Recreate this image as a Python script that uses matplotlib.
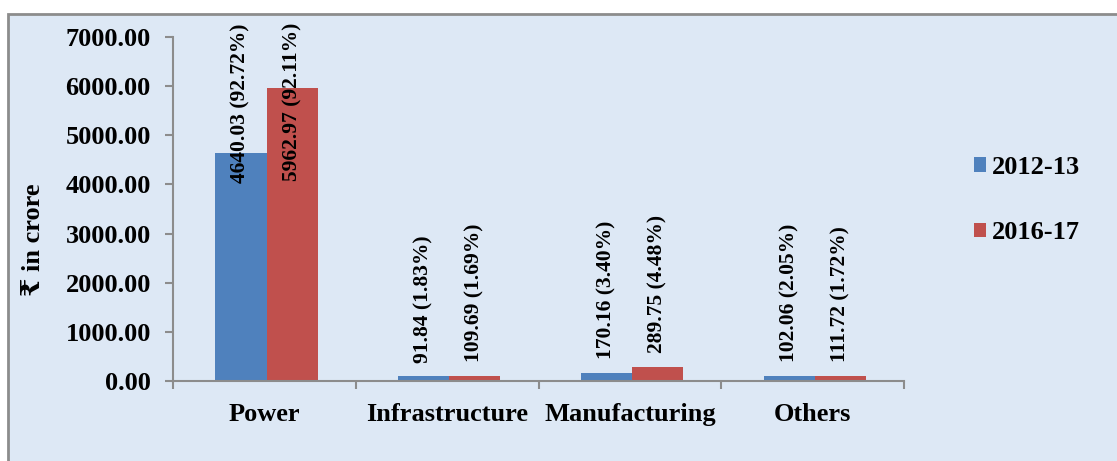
import matplotlib.pyplot as plt
from matplotlib.patches import Rectangle
import numpy as np

# --- DATA ---
categories = ['Power', 'Infrastructure', 'Manufacturing', 'Others']
series_names = ['2012-13', '2016-17']
values_1213 = [4640.03, 91.84, 170.16, 102.06]
values_1617 = [5962.97, 109.69, 289.75, 111.72]
share_1213 = [92.72, 1.83, 3.40, 2.05]
share_1617 = [92.11, 1.69, 4.48, 1.72]
y_ticks = [0, 1000, 2000, 3000, 4000, 5000, 6000, 7000]

blue = '#4F81BD'
red = '#C0504D'
bg = '#DDE8F5'
grey = '#8C8C8C'
serif = ['Liberation Serif', 'DejaVu Serif', 'DejaVu Sans']

plt.rcParams['font.family'] = serif
plt.rcParams['font.weight'] = 'bold'
fs = 19

fig = plt.figure(figsize=(11.17, 4.61), dpi=100)
fig.patch.set_facecolor('white')

# chart area background with grey border
W, H = 1117, 461
fig.patches.append(Rectangle((8 / W, -0.05), 1.2, 1 - 14 / H + 0.05,
                             transform=fig.transFigure, facecolor=bg,
                             edgecolor=grey, linewidth=2, zorder=-5))

ax = fig.add_axes([173 / W, 1 - 381 / H, (904 - 173) / W, (381 - 37) / H])
ax.set_facecolor('none')

x = np.arange(len(categories))
w = 0.28
b1 = ax.bar(x - w / 2 + 0.012, values_1213, w, color=blue, label=series_names[0], zorder=2)
b2 = ax.bar(x + w / 2 + 0.012, values_1617, w, color=red, label=series_names[1], zorder=2)

ax.set_xlim(-0.5, len(categories) - 0.5)
ax.set_ylim(0, 7000)
ax.set_yticks(y_ticks)
ax.set_yticklabels([f'{v:.2f}' for v in y_ticks], fontsize=fs, fontweight='bold')
ax.set_xticks(x)
ax.set_xticklabels(categories, fontsize=fs, fontweight='bold')
ax.set_xticks(np.arange(len(categories) + 1) - 0.5, minor=True)
ax.tick_params(axis='x', which='major', length=0, pad=16)
ax.tick_params(axis='x', which='minor', length=6, color=grey, width=1.5)
ax.tick_params(axis='y', length=6, color=grey, width=1.5, pad=10)

for s in ['top', 'right']:
    ax.spines[s].set_visible(False)
for s in ['left', 'bottom']:
    ax.spines[s].set_color(grey)
    ax.spines[s].set_linewidth(1.5)

ax.set_ylabel('₹ in crore', fontsize=fs, fontweight='bold')
ax.yaxis.set_label_coords(-0.175, 0.41)

# value labels
for i in range(len(categories)):
    for xv, val, sh, in [(x[i] - w / 2 + 0.012, values_1213[i], share_1213[i]),
                         (x[i] + w / 2 + 0.012, values_1617[i], share_1617[i])]:
        txt = f'{val:.2f} ({sh:.2f}%)'
        if val > 3000:
            ax.annotate(txt, (xv, 7000), xytext=(0, 10), textcoords='offset points',
                        rotation=90, ha='center', va='top', fontsize=15.5,
                        fontweight='bold', zorder=3)
        else:
            ax.annotate(txt, (xv, val), xytext=(0, 10), textcoords='offset points',
                        rotation=90, ha='center', va='bottom', fontsize=15.5,
                        fontweight='bold', zorder=3)

leg = fig.legend(handles=[b1, b2], loc='center left', bbox_to_anchor=(950 / W, 1 - 200 / H),
                 frameon=False, fontsize=fs, handlelength=0.45, handleheight=0.45,
                 handletextpad=0.25, labelspacing=1.6)
for t in leg.get_texts():
    t.set_fontweight('bold')

plt.savefig('out.png', dpi=100, facecolor=fig.get_facecolor())
